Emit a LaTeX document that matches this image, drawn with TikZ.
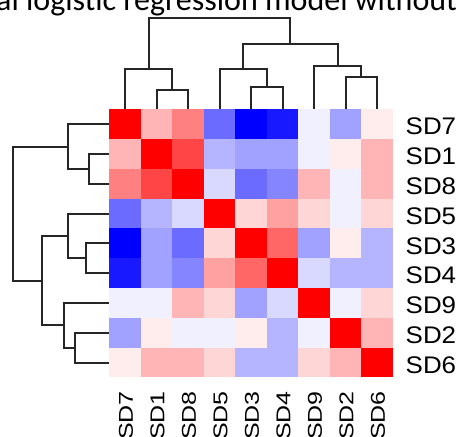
\documentclass[tikz,border=0pt]{standalone}
\usepackage{fontspec}
\setmainfont{Liberation Sans}
\newfontfamily\titlefont{Carlito}
\definecolor{dendrogray}{rgb}{0.15,0.15,0.15}

\tikzset{
  rowlab/.style={anchor=west,inner sep=0pt,xscale=1.08,font=\fontsize{24}{24}\selectfont},
  collab/.style={anchor=east,rotate=90,xscale=1.25,inner sep=0pt,font=\fontsize{20}{20}\selectfont},
  tree/.style={draw=dendrogray,line width=2pt}
}

\begin{document}
\begin{tikzpicture}[x=1pt,y=-1pt]
\useasboundingbox (0,0) rectangle (459,437);
\clip (0,0) rectangle (459,437);

% title, cut at the top of the figure
\node[anchor=base west,inner sep=0pt] (title) at (-4,10)
  {\titlefont\fontsize{32}{32}\selectfont al logistic regression model without};

% heat map cells
\def\cw{31.49}
\def\ch{29.78}
\foreach \vals [count=\r] in {
  {100,29,50,-58,-100,-90,-6,-37,7},
  {29,100,73,-29,-37,-37,-6,7,29},
  {50,73,100,-15,-58,-48,29,-6,29},
  {-58,-29,-15,100,16,37,16,-6,16},
  {-100,-37,-58,16,100,60,-37,7,-29},
  {-90,-37,-48,37,60,100,-15,-29,-29},
  {-6,-6,29,16,-37,-15,100,-6,16},
  {-37,7,-6,-6,7,-29,-6,100,29},
  {7,29,29,16,-29,-29,16,29,100}} {
  \foreach \v [count=\c] in \vals {
    \pgfmathtruncatemacro\p{abs(\v)}
    \ifnum\v<0 \def\hue{blue}\else\def\hue{red}\fi
    \fill[\hue!\p!white] ({109.3+(\c-1)*\cw},{109.3+(\r-1)*\ch}) rectangle ++(\cw,\ch);
  }
}

% labels
\foreach \s [count=\i] in {SD7,SD1,SD8,SD5,SD3,SD4,SD9,SD2,SD6} {
  \node[rowlab] (row\i) at (405.5,{109.3+(\i-0.5)*\ch+2.5}) {\s};
  \node[collab] (col\i) at ({109.3+(\i-0.5)*\cw+1},391) {\s};
}

% column dendrogram
\draw[tree] (156.5,108.5)--(156.5,90)--(188,90)--(188,108.5);
\draw[tree] (125,108.5)--(125,69)--(172.25,69)--(172.25,90);
\draw[tree] (251,108.5)--(251,87.3)--(282.5,87.3)--(282.5,108.5);
\draw[tree] (219.5,108.5)--(219.5,69)--(266.75,69)--(266.75,87.3);
\draw[tree] (345.5,108.5)--(345.5,76.7)--(377,76.7)--(377,108.5);
\draw[tree] (314,108.5)--(314,66.3)--(361.25,66.3)--(361.25,76.7);
\draw[tree] (243.1,69)--(243.1,44.3)--(337.6,44.3)--(337.6,66.3);
\draw[tree] (148.6,69)--(148.6,17.7)--(290.4,17.7)--(290.4,44.3);

% row dendrogram
\draw[tree] (108.5,154)--(89.3,154)--(89.3,183.8)--(108.5,183.8);
\draw[tree] (108.5,124.2)--(67.7,124.2)--(67.7,168.9)--(89.3,168.9);
\draw[tree] (108.5,243.4)--(86.3,243.4)--(86.3,273.1)--(108.5,273.1);
\draw[tree] (108.5,213.6)--(67.7,213.6)--(67.7,258.25)--(86.3,258.25);
\draw[tree] (108.5,332.7)--(75.3,332.7)--(75.3,362.5)--(108.5,362.5);
\draw[tree] (108.5,302.9)--(64,302.9)--(64,347.6)--(75.3,347.6);
\draw[tree] (67.7,235.9)--(41.7,235.9)--(41.7,325.25)--(64,325.25);
\draw[tree] (67.7,146.55)--(12.7,146.55)--(12.7,280.6)--(41.7,280.6);

\end{tikzpicture}
\end{document}
